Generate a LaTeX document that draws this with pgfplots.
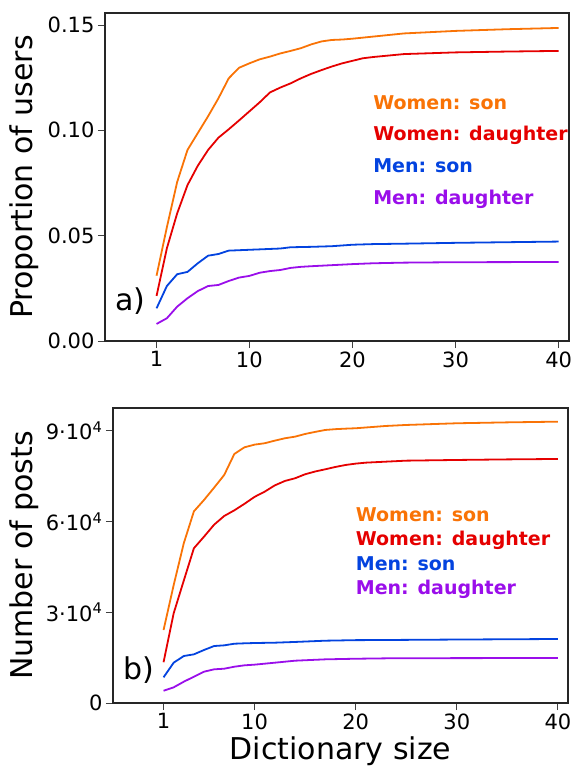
\documentclass[border=0pt]{standalone}
\usepackage{fontspec}
\setmainfont{DejaVu Sans}
\usepackage{pgfplots}
\pgfplotsset{compat=1.18}
\definecolor{corange}{HTML}{F97306}
\definecolor{cred}{HTML}{E50000}
\definecolor{cblue}{HTML}{0343DF}
\definecolor{cpurple}{HTML}{9A0EEA}
\pgfplotsset{
  mystyle/.style={
    scale only axis,
    xmin=-4, xmax=41,
    xtick={1,10,20,30,40},
    xticklabels={1,10,20,30,40},
    tick align=outside,
    major tick length=7pt,
    xtick pos=left, ytick pos=left,
    tick style={black!75, line width=1pt},
    axis line style={black!85, line width=1.1pt},
    tick label style={font=\fontsize{21}{25}\selectfont},
    label style={font=\fontsize{30}{36}\selectfont},
    every axis plot/.append style={line width=1.8pt, line join=round, mark=none},
  }
}
\newcommand{\ann}{\fontsize{19}{22}\selectfont\bfseries}
\begin{document}
\begin{tikzpicture}
\useasboundingbox (0,0) rectangle (571pt,-767pt);
% ---------------- Panel a
\begin{axis}[mystyle,
  at={(105pt,-13pt)}, anchor=north west,
  width=464pt, height=328pt,
  ymin=0, ymax=0.1557,
  ytick={0,0.05,0.10,0.15},
  yticklabels={0.00,0.05,0.10,0.15},
  ylabel={Proportion of users},
  ylabel style={at={(axis description cs:-0.1746,0.5)}, anchor=center},
]
\addplot[corange] coordinates {(1,0.031)(2,0.054)(3,0.0755)(4,0.0907)(5,0.0987)(6,0.1067)(7,0.1152)(8,0.1247)(9,0.1297)(10,0.1318)(11,0.1337)(12,0.135)(13,0.1365)(14,0.1377)(15,0.139)(16,0.1408)(17,0.1422)(18,0.1429)(19,0.1431)(20,0.1435)(22,0.1445)(25,0.146)(30,0.1472)(35,0.148)(40,0.1486)};
\addplot[cred] coordinates {(1,0.0214)(2,0.044)(3,0.0606)(4,0.074)(5,0.0832)(6,0.0907)(7,0.0965)(8,0.1005)(9,0.1047)(10,0.109)(11,0.1133)(12,0.118)(13,0.1203)(14,0.1223)(15,0.1247)(16,0.1268)(17,0.1286)(18,0.1303)(19,0.1318)(20,0.133)(21,0.1342)(22,0.1348)(25,0.1362)(30,0.137)(35,0.1374)(40,0.1377)};
\addplot[cblue] coordinates {(1,0.0155)(2,0.0261)(3,0.0317)(4,0.0328)(5,0.0369)(6,0.0405)(7,0.0413)(8,0.0429)(9,0.0431)(10,0.0433)(11,0.0435)(12,0.0437)(13,0.0439)(14,0.0445)(16,0.0447)(18,0.045)(20,0.0457)(22,0.046)(25,0.0462)(30,0.0466)(35,0.0469)(40,0.0472)};
\addplot[cpurple] coordinates {(1,0.0081)(2,0.0108)(3,0.0163)(4,0.0203)(5,0.0237)(6,0.0261)(7,0.0266)(8,0.0285)(9,0.0301)(10,0.0309)(11,0.0324)(12,0.0332)(13,0.0337)(14,0.0347)(15,0.0352)(16,0.0355)(18,0.036)(20,0.0365)(22,0.0369)(25,0.0372)(30,0.0374)(40,0.0375)};
\node[anchor=base west, inner sep=0pt, text=corange, font=\ann] at (axis cs:22,0.110) {Women: son};
\node[anchor=base west, inner sep=0pt, text=cred, font=\ann] at (axis cs:22,0.095) {Women: daughter};
\node[anchor=base west, inner sep=0pt, text=cblue, font=\ann] at (axis cs:22,0.080) {Men: son};
\node[anchor=base west, inner sep=0pt, text=cpurple, font=\ann] at (axis cs:22,0.065) {Men: daughter};
\node[anchor=base west, inner sep=0pt, font=\fontsize{30}{36}\selectfont] at (axis cs:-3,0.0145) {a)};
\end{axis}
% ---------------- Panel b
\begin{axis}[mystyle,
  at={(113pt,-408pt)}, anchor=north west,
  width=455pt, height=295pt,
  ymin=0, ymax=97600,
  scaled y ticks=false,
  ytick={0,30000,60000,90000},
  yticklabels={0,3·10\textsuperscript{4},6·10\textsuperscript{4},9·10\textsuperscript{4}},
  ylabel={Number of posts},
  ylabel style={at={(axis description cs:-0.1945,0.5)}, anchor=center},
  xlabel={Dictionary size},
  xlabel style={at={(axis description cs:0.5,-0.193)}, anchor=base},
]
\addplot[corange] coordinates {(1,24150)(2,39000)(3,52850)(4,63400)(5,67170)(6,71250)(7,75450)(8,82400)(9,84600)(10,85480)(11,85940)(12,86800)(13,87590)(14,88120)(15,89010)(16,89700)(17,90340)(18,90600)(19,90770)(20,90900)(23,91660)(25,91990)(30,92550)(35,92850)(40,93080)};
\addplot[cred] coordinates {(1,13500)(2,29680)(3,40500)(4,51200)(5,55030)(6,59000)(7,61880)(8,63750)(9,65900)(10,68200)(11,69920)(12,72000)(13,73460)(14,74350)(15,75680)(16,76600)(17,77330)(18,78100)(19,78750)(20,79200)(21,79520)(23,79850)(25,80180)(30,80410)(35,80600)(40,80740)};
\addplot[cblue] coordinates {(1,8500)(2,13340)(3,15550)(4,16100)(5,17540)(6,18860)(7,19080)(8,19620)(9,19750)(10,19850)(12,19960)(14,20200)(17,20620)(20,20800)(23,20850)(30,21000)(40,21180)};
\addplot[cpurple] coordinates {(1,4070)(2,5190)(3,7050)(4,8700)(5,10360)(6,11150)(7,11350)(8,12010)(9,12470)(10,12690)(12,13340)(14,14000)(17,14450)(20,14650)(23,14780)(30,14850)(40,14890)};
\node[anchor=base west, inner sep=0pt, text=corange, font=\ann] at (axis cs:20,60000) {Women: son};
\node[anchor=base west, inner sep=0pt, text=cred, font=\ann] at (axis cs:20,52000) {Women: daughter};
\node[anchor=base west, inner sep=0pt, text=cblue, font=\ann] at (axis cs:20,44000) {Men: son};
\node[anchor=base west, inner sep=0pt, text=cpurple, font=\ann] at (axis cs:20,36000) {Men: daughter};
\node[anchor=base west, inner sep=0pt, font=\fontsize{30}{36}\selectfont] at (axis cs:-3,7700) {b)};
\end{axis}
\end{tikzpicture}
\end{document}
